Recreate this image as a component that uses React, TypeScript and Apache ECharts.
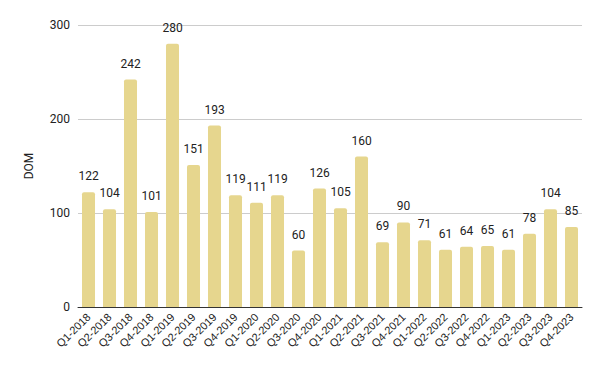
import React, { useEffect, useRef } from "react";
import * as echarts from "echarts";

const categories = [
  "Q1-2018", "Q2-2018", "Q3-2018", "Q4-2018",
  "Q1-2019", "Q2-2019", "Q3-2019", "Q4-2019",
  "Q1-2020", "Q2-2020", "Q3-2020", "Q4-2020",
  "Q1-2021", "Q2-2021", "Q3-2021", "Q4-2021",
  "Q1-2022", "Q2-2022", "Q3-2022", "Q4-2022",
  "Q1-2023", "Q2-2023", "Q3-2023", "Q4-2023",
];
const domValues = [
  122, 104, 242, 101,
  280, 151, 193, 119,
  111, 119, 60, 126,
  105, 160, 69, 90,
  71, 61, 64, 65,
  61, 78, 104, 85,
];

export default function App() {
  const ref = useRef<HTMLDivElement>(null);
  useEffect(() => {
    if (!ref.current) return;
    const chart = echarts.init(ref.current, undefined, { renderer: "svg" });
    chart.setOption({
      animation: false,
      textStyle: { fontFamily: "Roboto" },
      grid: { left: 78, right: 18, top: 25, bottom: 64 },
      xAxis: {
        type: "category",
        data: categories,
        axisTick: { show: false },
        axisLine: { lineStyle: { color: "#333", width: 1 } },
        axisLabel: {
          rotate: 45,
          interval: 0,
          fontSize: 11,
          color: "#222",
          fontFamily: "Liberation Sans",
          margin: 8,
        },
      },
      yAxis: {
        type: "value",
        min: 0,
        max: 300,
        interval: 100,
        name: "DOM",
        nameLocation: "middle",
        nameGap: 43,
        nameTextStyle: { fontSize: 12, color: "#222", fontFamily: "Roboto" },
        axisLine: { show: false },
        axisTick: { show: false },
        axisLabel: { fontSize: 12, color: "#222", fontFamily: "Roboto", margin: 8 },
        splitLine: { lineStyle: { color: "#cccccc", width: 1 } },
      },
      series: [
        {
          type: "bar",
          data: domValues,
          barCategoryGap: "38%",
          itemStyle: { color: "#e6d68e", borderRadius: [2, 2, 0, 0] },
          label: {
            show: true,
            position: "top",
            distance: 10,
            fontSize: 12,
            color: "#222",
            fontFamily: "Roboto",
          },
        },
      ],
    });
    return () => chart.dispose();
  }, []);
  return (
    <div
      ref={ref}
      style={{ position: "absolute", left: 0, top: 0, width: 600, height: 371 }}
    />
  );
}
